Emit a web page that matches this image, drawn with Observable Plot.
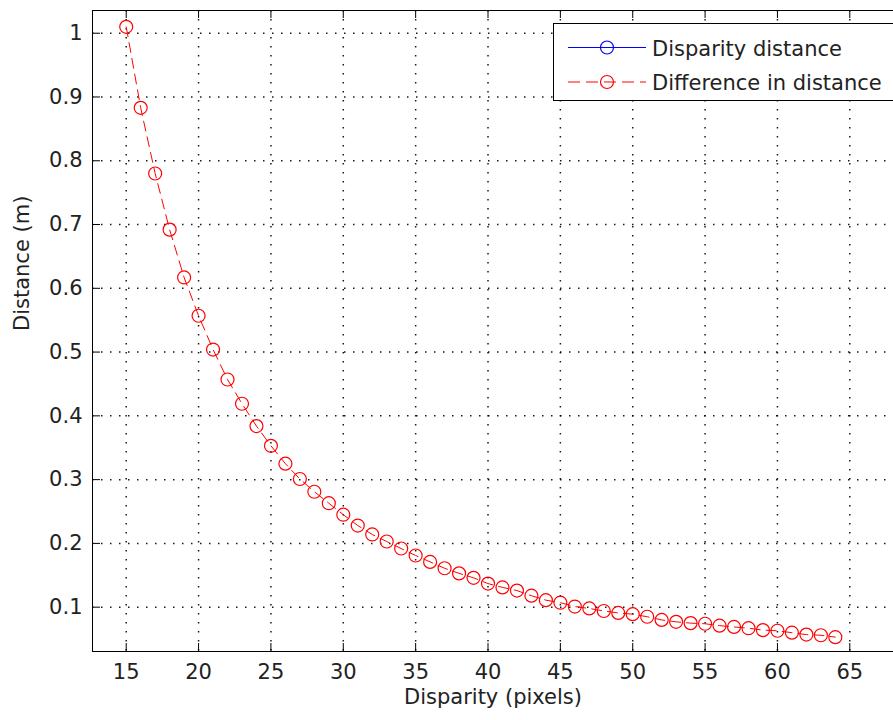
<!DOCTYPE html>
<html><head><meta charset="utf-8">
<script src="https://cdn.jsdelivr.net/npm/d3@7"></script>
<script src="https://cdn.jsdelivr.net/npm/@observablehq/plot@0.6"></script>
<style>body{margin:0;background:#fff;overflow:hidden}</style>
</head><body><div id="chart"></div>
<script>
const disparity = [15,16,17,18,19,20,21,22,23,24,25,26,27,28,29,30,31,32,33,34,35,36,37,38,39,40,41,42,43,44,45,46,47,48,49,50,51,52,53,54,55,56,57,58,59,60,61,62,63,64];
const distanceDiff = [1.010,0.883,0.780,0.692,0.617,0.557,0.504,0.457,0.419,0.384,0.353,0.325,0.301,0.281,0.263,0.245,0.228,0.214,0.203,0.192,0.181,0.171,0.161,0.153,0.146,0.137,0.131,0.126,0.118,0.111,0.107,0.101,0.098,0.094,0.091,0.089,0.085,0.080,0.077,0.075,0.074,0.071,0.069,0.067,0.064,0.063,0.060,0.057,0.056,0.053];
const xTicks = [15,20,25,30,35,40,45,50,55,60,65];
const yTicks = [0.1,0.2,0.3,0.4,0.5,0.6,0.7,0.8,0.9,1];
const legendLabels = ["Disparity distance","Difference in distance"];
const legendColors = ["#0000ff","#ff0000"];
const legendDashes = [null,"12,6"];
const xLabel = "Disparity (pixels)";
const yLabel = "Distance (m)";

const xDomain = [12.67, 68.02], yDomain = [0.0305, 1.0356];
const W = 893, H = 720, mL = 92, mR = 0, mT = 10, mB = 69;
const fw = W - mL - mR, fh = H - mT - mB;
const font = "DejaVu Sans";
const data = disparity.map((x, i) => ({x, y: distanceDiff[i]}));
const grid = {stroke: "#000", strokeWidth: 1.5, strokeDasharray: "1.5,7.5", strokeOpacity: 0.9};

const svg = Plot.plot({
  width: W, height: H, marginLeft: mL, marginRight: mR, marginTop: mT, marginBottom: mB,
  style: {fontFamily: font, fontSize: "21px", background: "#fff", color: "#000"},
  x: {domain: xDomain}, y: {domain: yDomain},
  marks: [
    Plot.ruleX(xTicks, grid),
    Plot.ruleY(yTicks, grid),
    Plot.tickX(xTicks, {x: d => d, insetTop: fh - 8, stroke: "#000"}),
    Plot.tickX(xTicks, {x: d => d, insetBottom: fh - 8, stroke: "#000"}),
    Plot.tickY(yTicks, {y: d => d, insetRight: fw - 8, stroke: "#000"}),
    Plot.ruleX([xDomain[0]], {stroke: "#000"}),
    Plot.ruleY(yDomain, {stroke: "#000"}),
    Plot.axisX({ticks: xTicks, tickSize: 0, tickPadding: 13, label: null, tickFormat: d => String(d), fill: "#222"}),
    Plot.axisY({ticks: yTicks, tickSize: 0, tickPadding: 10, label: null, tickFormat: d => String(d), fill: "#222"}),
    Plot.text([xLabel], {frameAnchor: "bottom", dy: 52, text: d => d, fill: "#222"}),
    Plot.text([yLabel], {frameAnchor: "left", dx: -70, rotate: -90, text: d => d, fill: "#222"}),
    Plot.line(data, {x: "x", y: "y", stroke: "#ff0000", strokeWidth: 1, strokeDasharray: "10,6"}),
    Plot.dot(data, {x: "x", y: "y", r: 6.5, stroke: "#ff0000", fill: "none", strokeWidth: 1.2})
  ]
});

// legend box (MATLAB style)
const g = d3.select(svg).append("g").attr("font-family", font).attr("font-size", 21)
  .attr("text-anchor", "start");
g.append("rect").attr("x", 553.5).attr("y", 23.5).attr("width", 360).attr("height", 77)
  .attr("fill", "#fff").attr("stroke", "#000");
legendLabels.forEach((lab, i) => {
  const cy = 47.5 + i * 34.5;
  const ln = g.append("line").attr("x1", 568).attr("x2", 646).attr("y1", cy).attr("y2", cy)
    .attr("stroke", legendColors[i]).attr("stroke-width", 1.2);
  if (legendDashes[i]) ln.attr("stroke-dasharray", legendDashes[i]);
  g.append("circle").attr("cx", 607).attr("cy", cy).attr("r", 6.5)
    .attr("fill", "none").attr("stroke", legendColors[i]).attr("stroke-width", 1.2);
  g.append("text").attr("x", 652).attr("y", cy + 8).attr("fill", "#222")
    .attr("text-anchor", "start").text(lab);
});

document.getElementById("chart").appendChild(svg);
</script>
</body></html>
